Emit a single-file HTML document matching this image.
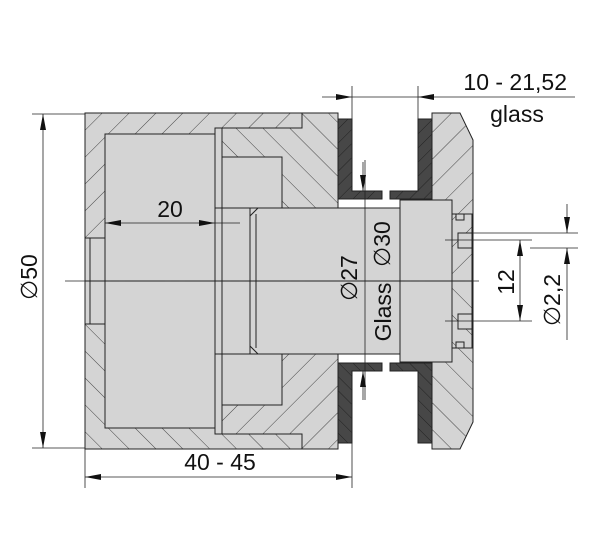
<!DOCTYPE html>
<html><head><meta charset="utf-8"><style>
html,body{margin:0;padding:0;background:#fff;}
svg{display:block;}
text{font-family:"Liberation Sans",sans-serif;fill:#111;}
.d{font-family:"DejaVu Sans",sans-serif;font-weight:200;}
</style></head><body>
<svg width="600" height="539" viewBox="0 0 600 539" xmlns="http://www.w3.org/2000/svg">
<defs>
<pattern id="hA" patternUnits="userSpaceOnUse" width="19" height="19" patternTransform="rotate(45)">
<rect width="19" height="19" fill="#d4d4d4"/><line x1="0" y1="0" x2="0" y2="19" stroke="#333" stroke-width="0.9"/></pattern>
<pattern id="hB" patternUnits="userSpaceOnUse" width="19" height="19" patternTransform="rotate(-45)">
<rect width="19" height="19" fill="#d4d4d4"/><line x1="0" y1="0" x2="0" y2="19" stroke="#333" stroke-width="0.9"/></pattern>
<pattern id="hD" patternUnits="userSpaceOnUse" width="10" height="10" patternTransform="rotate(45)">
<rect width="10" height="10" fill="#474747"/><line x1="0" y1="0" x2="0" y2="10" stroke="#222" stroke-width="1"/></pattern>
<marker id="ar" markerWidth="16" markerHeight="6" refX="16" refY="3" orient="auto" markerUnits="userSpaceOnUse">
<path d="M0,0 L16,3 L0,6 Z" fill="#111"/></marker>
<g id="half" stroke="#222" stroke-width="1">
<rect x="85" y="113" width="253" height="168" fill="url(#hA)"/>
<polygon points="302,113 338,113 338,208 215,208 215,128 302,128" fill="url(#hB)"/>
<rect x="215" y="128" width="7" height="80" fill="#d4d4d4"/>
<rect x="222" y="157" width="60" height="51" fill="#d4d4d4"/>
<rect x="105" y="134" width="110" height="147" fill="#d4d4d4"/>
<rect x="215" y="208" width="35" height="73" fill="#d4d4d4"/>
<line x1="222" y1="208" x2="222" y2="281"/>
<rect x="85" y="238" width="20" height="43" fill="#d4d4d4"/>
<line x1="90" y1="238" x2="90" y2="281"/>
<polygon points="258,208 400,208 400,281 250,281 250,216" fill="#d4d4d4"/>
<line x1="256" y1="214" x2="256" y2="281"/>
<polygon points="338,119 352,119 352,191 382,191 382,199 338,199" fill="url(#hD)"/>
<polygon points="418,119 432,119 432,199 390,199 390,191 418,191" fill="url(#hD)"/>
<polygon points="432,113 460,113 473,140 473,281 432,281" fill="url(#hA)"/>
<rect x="400" y="200" width="52" height="81" fill="#d4d4d4"/>
<polygon points="452,214 472,214 472,281 452,281" fill="url(#hA)"/>
<rect x="456" y="214" width="8" height="6" fill="#d4d4d4"/>
<rect x="458" y="233" width="14" height="15" fill="#d4d4d4"/>
</g>
</defs>
<use href="#half"/>
<use href="#half" transform="translate(0,562) scale(1,-1)"/>
<g stroke="#222" stroke-width="0.8" fill="none">
<line x1="65" y1="281" x2="480" y2="281" stroke-dasharray="40,6,8,6"/>
<line x1="365" y1="160" x2="365" y2="400"/>
<line x1="32" y1="114" x2="85" y2="114"/>
<line x1="32" y1="448" x2="85" y2="448"/>
<line x1="43" y1="150" x2="43" y2="114" marker-end="url(#ar)"/>
<line x1="43" y1="400" x2="43" y2="448" marker-end="url(#ar)"/>
<line x1="43" y1="150" x2="43" y2="400"/>
<line x1="160" y1="223" x2="105" y2="223" marker-end="url(#ar)"/>
<line x1="160" y1="223" x2="215" y2="223" marker-end="url(#ar)"/>
<line x1="215" y1="223" x2="240" y2="223"/>
<line x1="85" y1="448" x2="85" y2="488"/>
<line x1="352" y1="440" x2="352" y2="488"/>
<line x1="220" y1="477" x2="85" y2="477" marker-end="url(#ar)"/>
<line x1="220" y1="477" x2="352" y2="477" marker-end="url(#ar)"/>
<line x1="352" y1="86" x2="352" y2="119"/>
<line x1="418" y1="86" x2="418" y2="119"/>
<line x1="322" y1="97" x2="352" y2="97" marker-end="url(#ar)"/>
<line x1="575" y1="97" x2="418" y2="97" marker-end="url(#ar)"/>
<line x1="352" y1="97" x2="418" y2="97"/>
<line x1="363" y1="162" x2="363" y2="191" marker-end="url(#ar)"/>
<line x1="363" y1="400" x2="363" y2="371" marker-end="url(#ar)"/>
<line x1="445" y1="240" x2="532" y2="240"/>
<line x1="445" y1="321" x2="532" y2="321"/>
<line x1="520" y1="280" x2="520" y2="240" marker-end="url(#ar)"/>
<line x1="520" y1="280" x2="520" y2="321" marker-end="url(#ar)"/>
<line x1="470" y1="233" x2="578" y2="233"/>
<line x1="530" y1="248" x2="578" y2="248"/>
<line x1="567" y1="204" x2="567" y2="233" marker-end="url(#ar)"/>
<line x1="567" y1="280" x2="567" y2="248" marker-end="url(#ar)"/>
<line x1="567" y1="280" x2="567" y2="340"/>
</g>
<text x="170" y="217" font-size="23" text-anchor="middle">20</text>
<text x="220" y="470" font-size="23" text-anchor="middle">40 - 45</text>
<text x="567" y="90" font-size="23" text-anchor="end">10 - 21,52</text>
<text x="517" y="122" font-size="23" text-anchor="middle">glass</text>
<text transform="translate(37,277) rotate(-90)" font-size="23" text-anchor="middle"><tspan class="d">∅</tspan>50</text>
<text transform="translate(357,278) rotate(-90)" font-size="23" text-anchor="middle"><tspan class="d">∅</tspan>27</text>
<text transform="translate(390,244) rotate(-90)" font-size="23" text-anchor="middle"><tspan class="d">∅</tspan>30</text>
<text transform="translate(391,312) rotate(-90)" font-size="23" text-anchor="middle">Glass</text>
<text transform="translate(514,282) rotate(-90)" font-size="23" text-anchor="middle">12</text>
<text transform="translate(560,300) rotate(-90)" font-size="23" text-anchor="middle"><tspan class="d">∅</tspan>2,2</text>
</svg>
</body></html>
